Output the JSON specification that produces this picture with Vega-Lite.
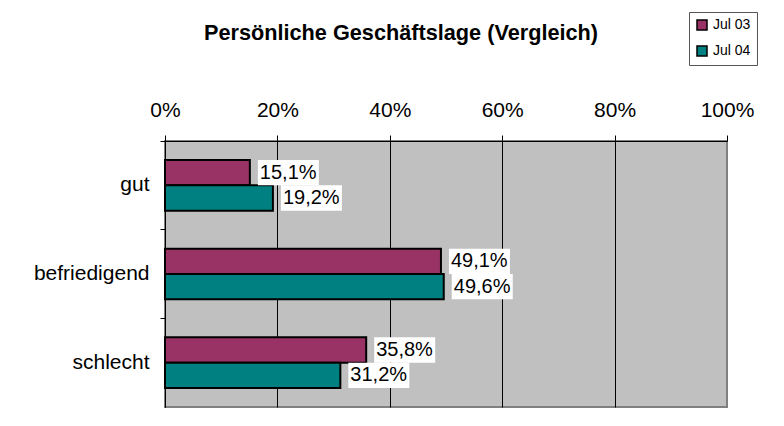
{
  "$schema": "https://vega.github.io/schema/vega-lite/v6.json",
  "width": 562,
  "height": 266,
  "autosize": {"type": "none"},
  "padding": {"left": 165, "top": 141, "right": 57, "bottom": 19},
  "background": "white",
  "title": {
    "text": "Persönliche Geschäftslage (Vergleich)",
    "font": "Liberation Sans",
    "fontSize": 21.7,
    "fontWeight": "bold",
    "color": "black",
    "anchor": "middle",
    "dx": -45,
    "offset": -33
  },
  "data": {
    "values": [
      {"Lage": "gut", "Serie": "Jul 03", "Anteil": 0.151},
      {"Lage": "gut", "Serie": "Jul 04", "Anteil": 0.192},
      {"Lage": "befriedigend", "Serie": "Jul 03", "Anteil": 0.491},
      {"Lage": "befriedigend", "Serie": "Jul 04", "Anteil": 0.496},
      {"Lage": "schlecht", "Serie": "Jul 03", "Anteil": 0.358},
      {"Lage": "schlecht", "Serie": "Jul 04", "Anteil": 0.312}
    ]
  },
  "encoding": {
    "y": {
      "field": "Lage",
      "type": "nominal",
      "sort": ["gut", "befriedigend", "schlecht"],
      "scale": {"paddingInner": 0, "paddingOuter": 0},
      "axis": {
        "title": null,
        "orient": "left",
        "domainColor": "black",
        "domainWidth": 1,
        "tickColor": "black",
        "tickSize": 5,
        "bandPosition": 0,
        "labelFont": "Liberation Sans",
        "labelFontSize": 21,
        "labelColor": "black",
        "labelPadding": 11
      }
    },
    "yOffset": {
      "field": "Serie",
      "type": "nominal",
      "sort": ["Jul 03", "Jul 04"],
      "scale": {"paddingInner": 0, "paddingOuter": 0.75}
    }
  },
  "layer": [
    {
      "mark": {"type": "bar", "stroke": "black", "strokeWidth": 2},
      "encoding": {
        "x": {
          "field": "Anteil",
          "type": "quantitative",
          "scale": {"domain": [0, 1], "nice": false},
          "axis": {
            "title": null,
            "orient": "top",
            "values": [0, 0.2, 0.4, 0.6, 0.8, 1],
            "format": ".0%",
            "labelFlush": false,
            "grid": true,
            "gridColor": {"condition": {"test": "datum.value == 1", "value": "#808080"}, "value": "black"},
            "gridWidth": 1,
            "domainColor": "black",
            "tickColor": "black",
            "tickSize": 6,
            "labelFont": "Liberation Sans",
            "labelFontSize": 21,
            "labelColor": "black",
            "labelPadding": 15
          }
        },
        "color": {
          "field": "Serie",
          "type": "nominal",
          "scale": {"domain": ["Jul 03", "Jul 04"], "range": ["#993366", "#008080"]},
          "legend": {
            "title": null,
            "orient": "none",
            "legendX": 524,
            "legendY": -129,
            "symbolType": "square",
            "symbolSize": 100,
            "symbolStrokeColor": "black",
            "symbolStrokeWidth": 1.5,
            "symbolOpacity": 1,
            "labelFont": "Liberation Sans",
            "labelFontSize": 14,
            "labelColor": "black",
            "labelOffset": 4,
            "rowPadding": 10,
            "padding": 6,
            "strokeColor": "#555555",
            "fillColor": "white"
          }
        }
      }
    },
    {
      "mark": {"type": "bar", "fill": "white", "xOffset": 8, "x2Offset": 69},
      "encoding": {
        "x": {"field": "Anteil", "type": "quantitative"},
        "x2": {"field": "Anteil"}
      }
    },
    {
      "mark": {"type": "text", "align": "left", "baseline": "middle", "dx": 10, "font": "Liberation Sans", "fontSize": 20, "color": "black"},
      "encoding": {
        "x": {"field": "Anteil", "type": "quantitative"},
        "text": {"field": "Anteil", "type": "quantitative", "format": ".1%"}
      }
    }
  ],
  "config": {
    "locale": {
      "number": {"decimal": ",", "thousands": ".", "grouping": [3], "currency": ["", " €"]}
    },
    "view": {"fill": "#C0C0C0", "stroke": "#808080", "strokeWidth": 2}
  }
}
